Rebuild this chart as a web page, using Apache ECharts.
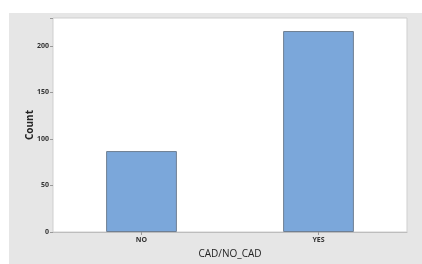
<!DOCTYPE html>
<html>
<head>
<meta charset="utf-8">
<script src="https://cdn.jsdelivr.net/npm/echarts@6/dist/echarts.min.js"></script>
<style>
  html, body { margin: 0; padding: 0; background: #fff; }
  #wrap { position: relative; width: 422px; height: 264px; overflow: hidden; }
  #panel { position: absolute; left: 9px; top: 13px; width: 413px; height: 251px; background: #e6e6e6; }
  #chart { width: 413px; height: 251px; }
</style>
</head>
<body>
<div id="wrap">
  <div id="panel"><div id="chart"></div></div>
</div>
<script>
const categories = ['NO', 'YES']
const counts = [87, 216]
const yTicks = [0, 50, 100, 150, 200]

const chartInstance = echarts.init(document.getElementById('chart'))

const option = {
  animation: false,
  grid: {
    show: true,
    left: 44,
    top: 5,
    right: 15,
    bottom: 31,
    backgroundColor: '#fff',
    borderColor: '#cfcfcf',
    borderWidth: 1
  },
  xAxis: {
    type: 'category',
    data: categories,
    name: 'CAD/NO_CAD',
    nameLocation: 'middle',
    nameGap: 17,
    nameMoveOverlap: false,
    nameTextStyle: { color: '#222', fontSize: 10, fontFamily: 'Open Sans' },
    axisLine: { lineStyle: { color: '#bdbdbd', width: 1 } },
    axisTick: { show: true, alignWithLabel: true, length: 3, lineStyle: { color: '#999' } },
    axisLabel: { color: '#333', fontSize: 7, fontWeight: 'bold', fontFamily: 'Open Sans', margin: 4 }
  },
  yAxis: {
    type: 'value',
    min: 0,
    max: 230,
    interval: 50,
    name: 'Count',
    nameLocation: 'middle',
    nameGap: 18,
    nameMoveOverlap: false,
    nameTextStyle: { color: '#222', fontSize: 10, fontWeight: 'bold', fontFamily: 'Open Sans' },
    axisLine: { show: false },
    axisTick: { show: true, length: 3, lineStyle: { color: '#999' } },
    splitLine: { show: false },
    axisLabel: {
      color: '#333', fontSize: 7, fontWeight: 'bold', fontFamily: 'Open Sans', margin: 4,
      formatter: v => yTicks.includes(v) ? String(v) : ''
    }
  },
  series: [{
    type: 'bar',
    data: counts,
    barWidth: '40%',
    itemStyle: {
      color: '#7ba7da',
      borderColor: '#6f7f92',
      borderWidth: 1
    }
  }]
}

chartInstance.setOption(option)
</script>
</body>
</html>
